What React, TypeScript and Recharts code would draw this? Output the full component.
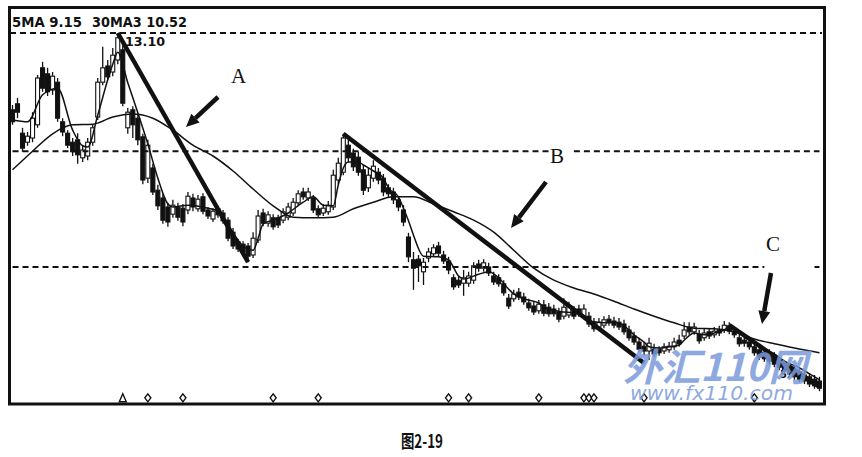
import React from "react"
import { ComposedChart, Bar, Line, XAxis, YAxis, ReferenceLine } from "recharts"

// daily candles (price units)
const opens = [
  11.82, 11.92, 11.43, 11.28, 11.35, 11.57, 12.52, 12.42, 12.15, 12.28,
  11.62, 11.43, 11.28, 11.32, 11.02, 11.05, 11.28, 11.7, 12.28, 12.55,
  12.45, 12.65, 12.82, 11.52, 11.82, 11.68, 11.37, 10.68, 10.85, 10.48,
  10.35, 10.2, 10.08, 10.2, 10.18, 10.15, 10.35, 10.17, 10.37, 10.15,
  10.0, 10.17, 10.1, 9.98, 9.78, 9.62, 9.58, 9.55, 9.4, 9.65,
  10.1, 9.93, 10.02, 10.02, 9.98, 10.03, 10.1, 10.27, 10.45, 10.35,
  10.35, 10.17, 10.1, 10.12, 10.2, 10.65, 10.78, 11.23, 11.1, 11.03,
  10.82, 10.52, 10.68, 10.78, 10.68, 10.52, 10.45, 10.32, 10.15, 9.7,
  9.32, 9.33, 9.12, 9.35, 9.42, 9.55, 9.4, 9.3, 9.02, 8.98,
  8.93, 8.93, 8.98, 9.25, 9.18, 9.2, 9.05, 9.02, 8.92, 8.68,
  8.67, 8.78, 8.7, 8.6, 8.55, 8.47, 8.57, 8.53, 8.5, 8.45,
  8.38, 8.4, 8.48, 8.5, 8.38, 8.38, 8.28, 8.2, 8.23, 8.33,
  8.3, 8.28, 8.25, 8.15, 8.05, 7.95, 7.88, 7.8, 7.83, 7.83,
  7.8, 7.82, 7.87, 7.98, 8.05, 8.2, 8.12, 8.08, 8.02, 8.12,
  8.07, 8.15, 8.15, 8.22, 8.13, 8.02, 7.98, 7.95, 7.87, 7.82,
  7.78, 7.77, 7.72, 7.63, 7.58, 7.53, 7.48, 7.45, 7.4, 7.37,
  7.33, 7.3,
]
const closes = [
  11.62, 11.78, 11.18, 11.38, 11.68, 12.35, 12.18, 12.12, 12.38, 11.68,
  11.45, 11.23, 11.12, 11.07, 11.15, 11.28, 11.52, 12.28, 12.52, 12.37,
  12.73, 13.02, 11.93, 11.78, 11.57, 11.32, 10.65, 11.23, 10.45, 10.22,
  9.98, 9.95, 10.23, 10.03, 9.95, 10.38, 10.2, 10.33, 10.13, 10.05,
  10.13, 10.07, 9.97, 9.68, 9.55, 9.5, 9.45, 9.38, 9.68, 10.05,
  9.93, 10.07, 9.87, 9.9, 10.12, 10.2, 10.28, 10.42, 10.37, 10.45,
  10.15, 10.07, 10.18, 10.23, 10.73, 10.93, 11.35, 11.02, 10.87, 10.78,
  10.48, 10.73, 10.88, 10.65, 10.45, 10.42, 10.32, 10.2, 9.95, 9.37,
  9.18, 9.22, 9.28, 9.45, 9.52, 9.43, 9.3, 9.15, 8.87, 8.9,
  9.02, 9.05, 9.22, 9.18, 9.27, 9.1, 8.95, 8.92, 8.77, 8.55,
  8.75, 8.7, 8.62, 8.52, 8.45, 8.58, 8.43, 8.42, 8.42, 8.33,
  8.53, 8.55, 8.38, 8.42, 8.5, 8.25, 8.17, 8.28, 8.32, 8.27,
  8.23, 8.2, 8.12, 8.02, 7.95, 7.83, 7.8, 7.93, 7.75, 7.77,
  7.87, 7.88, 7.95, 7.92, 8.15, 8.12, 8.2, 7.97, 8.1, 8.05,
  8.13, 8.1, 8.23, 8.13, 8.07, 7.92, 7.93, 7.87, 7.77, 7.7,
  7.67, 7.63, 7.58, 7.53, 7.47, 7.42, 7.37, 7.33, 7.3, 7.25,
  7.22, 7.18,
]
const highs = [
  11.9, 12.02, 11.52, 11.45, 11.78, 12.4, 12.62, 12.52, 12.45, 12.35,
  11.68, 11.48, 11.35, 11.43, 11.22, 11.35, 11.58, 12.35, 12.87, 12.65,
  12.85, 13.1, 12.9, 11.85, 11.88, 11.75, 11.42, 11.32, 10.92, 10.57,
  10.42, 10.27, 10.32, 10.27, 10.25, 10.45, 10.42, 10.4, 10.43, 10.2,
  10.18, 10.22, 10.15, 10.03, 9.85, 9.67, 9.63, 9.6, 9.78, 10.15,
  10.17, 10.13, 10.08, 10.07, 10.18, 10.27, 10.35, 10.48, 10.52, 10.52,
  10.4, 10.23, 10.25, 10.3, 10.82, 11.02, 11.42, 11.32, 11.17, 11.12,
  10.9, 10.85, 10.98, 10.85, 10.75, 10.58, 10.52, 10.38, 10.23, 9.77,
  9.45, 9.4, 9.35, 9.52, 9.58, 9.62, 9.47, 9.37, 9.08, 9.05,
  9.15, 9.12, 9.28, 9.32, 9.33, 9.27, 9.12, 9.08, 8.98, 8.75,
  8.82, 8.85, 8.77, 8.67, 8.62, 8.65, 8.65, 8.6, 8.57, 8.52,
  8.68, 8.62, 8.55, 8.57, 8.58, 8.45, 8.35, 8.35, 8.38, 8.4,
  8.37, 8.35, 8.32, 8.22, 8.12, 8.02, 7.95, 8.02, 7.92, 7.88,
  7.93, 7.95, 8.02, 8.07, 8.28, 8.28, 8.27, 8.15, 8.17, 8.18,
  8.2, 8.22, 8.3, 8.28, 8.2, 8.08, 8.05, 8.02, 7.93, 7.88,
  7.85, 7.83, 7.78, 7.7, 7.65, 7.6, 7.55, 7.52, 7.47, 7.43,
  7.4, 7.37,
]
const lows = [
  11.57, 11.68, 11.12, 11.22, 11.28, 11.52, 12.12, 12.05, 12.07, 11.62,
  11.38, 11.18, 11.05, 10.92, 10.95, 10.98, 11.22, 11.65, 12.23, 12.32,
  12.38, 12.58, 11.88, 11.42, 11.35, 11.23, 10.58, 10.6, 10.4, 10.15,
  9.92, 9.87, 10.02, 9.97, 9.88, 10.08, 10.13, 10.12, 10.08, 10.0,
  9.95, 10.02, 9.92, 9.63, 9.5, 9.45, 9.38, 9.28, 9.35, 9.6,
  9.88, 9.87, 9.82, 9.85, 9.93, 9.98, 10.05, 10.22, 10.32, 10.3,
  10.1, 10.02, 10.05, 10.07, 10.15, 10.58, 10.73, 10.95, 10.8, 10.72,
  10.4, 10.45, 10.62, 10.58, 10.38, 10.35, 10.25, 10.13, 9.88, 9.28,
  8.82, 8.95, 8.9, 9.28, 9.37, 9.38, 9.25, 9.08, 8.82, 8.85,
  8.72, 8.87, 8.92, 9.12, 9.12, 9.05, 8.9, 8.87, 8.72, 8.5,
  8.62, 8.65, 8.57, 8.47, 8.4, 8.42, 8.38, 8.37, 8.37, 8.28,
  8.33, 8.35, 8.33, 8.37, 8.33, 8.2, 8.12, 8.13, 8.18, 8.22,
  8.18, 8.15, 8.07, 7.97, 7.9, 7.78, 7.73, 7.65, 7.7, 7.72,
  7.75, 7.77, 7.82, 7.87, 8.0, 8.07, 8.07, 7.92, 7.97, 8.0,
  8.02, 8.05, 8.1, 8.08, 8.02, 7.87, 7.87, 7.82, 7.72, 7.65,
  7.62, 7.58, 7.53, 7.48, 7.42, 7.37, 7.32, 7.28, 7.25, 7.2,
  7.17, 7.13,
]

// moving averages, read at [bar, value]
const ma5Pts = [
  [0, 11.65], [3, 11.62], [6, 12.07], [9, 12.18], [12, 11.48], [14, 11.22], [15, 11.2],
  [17, 11.73], [19, 12.32], [20, 12.58], [21, 12.78], [23, 12.27], [25, 11.77], [27, 11.25],
  [29, 10.68], [31, 10.25], [32, 10.2], [35, 10.23], [39, 10.18], [41, 10.13], [42, 10.02],
  [44, 9.77], [46, 9.55], [48, 9.48], [49, 9.68], [50, 9.92], [52, 9.98], [55, 10.1],
  [58, 10.28], [60, 10.37], [62, 10.23], [64, 10.22], [65, 10.57], [66, 10.85], [67, 10.95],
  [69, 10.95], [70, 10.9], [72, 10.8], [74, 10.68], [75, 10.52], [77, 10.37], [78, 10.18],
  [79, 9.97], [80, 9.73], [82, 9.38], [85, 9.37], [87, 9.32], [89, 9.05], [90, 9.0],
  [93, 9.08], [95, 9.12], [97, 9.02], [99, 8.83], [100, 8.75], [102, 8.67], [105, 8.6],
  [106, 8.53], [110, 8.45], [113, 8.43], [115, 8.3], [118, 8.27], [120, 8.28], [122, 8.22],
  [124, 8.07], [126, 7.95], [127, 7.87], [129, 7.85], [131, 7.87], [133, 7.9], [134, 7.98],
  [136, 8.1], [138, 8.07], [140, 8.1], [142, 8.15], [143, 8.2], [145, 8.1], [147, 7.98],
  [149, 7.87], [152, 7.75], [154, 7.63], [157, 7.52], [159, 7.42], [161, 7.32],
]
const ma30Pts = [
  [0, 10.82], [4, 11.13], [8, 11.42], [12, 11.57], [16, 11.58], [20, 11.7], [24, 11.75],
  [28, 11.68], [32, 11.48], [36, 11.23], [40, 11.05], [44, 10.8], [48, 10.5], [52, 10.22],
  [56, 10.03], [60, 10.02], [64, 10.03], [68, 10.17], [72, 10.28], [76, 10.37], [80, 10.37],
  [84, 10.25], [88, 10.12], [92, 9.98], [96, 9.78], [100, 9.48], [104, 9.18], [108, 8.98],
  [112, 8.85], [116, 8.75], [120, 8.63], [124, 8.5], [128, 8.38], [132, 8.27], [136, 8.18],
  [140, 8.17], [144, 8.12], [148, 8.0], [152, 7.92], [156, 7.85], [161, 7.77],
]

// signal markers along the bottom
const markBars = [22, 27, 34, 52, 61, 87, 91, 105, 114, 115, 116, 126, 148]
const markKinds = ["tri", "dia", "dia", "dia", "dia", "dia", "dia", "dia", "dia", "dia", "dia", "dia", "dia"]
const markLevel = 7.02

// trend lines A, B, C: [bar, price] -> [bar, price]
const trendLines = [
  [[21, 13.1], [47, 9.28]],
  [[66, 11.42], [126, 7.6]],
  [[143, 8.23], [161, 7.2]],
]
const gridFull = [13.1]
const gridB = { y: 11.13, parts: [[0, 107], [112, 161]] }
const gridC = { y: 9.2, parts: [[0, 150], [160, 161]] }

const rows = opens.map((o, i) => ({
  idx: i,
  open: o,
  close: closes[i],
  high: highs[i],
  low: lows[i],
  ma5: null as number | null,
  ma30: null as number | null,
  mark: null as number | null,
  kind: "",
}))
ma5Pts.forEach(([i, v]) => (rows[i].ma5 = v))
ma30Pts.forEach(([i, v]) => (rows[i].ma30 = v))
markBars.forEach((i, k) => {
  rows[i].mark = markLevel
  rows[i].kind = markKinds[k]
})

const INK = "#111"

const Candle = (props: any) => {
  const { x, y, width, height, payload } = props
  if (!payload || y == null) return <g />
  const top = Math.min(y, y + height)
  const bot = Math.max(y, y + height)
  const { open, close, high, low } = payload
  const span = high - low || 1
  const py = (v: number) => top + ((high - v) / span) * (bot - top)
  const cx = x + width / 2
  const up = close > open
  const bTop = py(Math.max(open, close))
  const bBot = py(Math.min(open, close))
  const bw = 4
  return (
    <g>
      <line x1={cx} x2={cx} y1={top} y2={bTop} stroke={INK} strokeWidth={1.3} />
      <line x1={cx} x2={cx} y1={bBot} y2={bot} stroke={INK} strokeWidth={1.3} />
      <rect
        x={cx - bw / 2}
        y={bTop}
        width={bw}
        height={Math.max(1.4, bBot - bTop)}
        fill={up ? "#fff" : INK}
        stroke={INK}
        strokeWidth={1.1}
      />
    </g>
  )
}

const Mark = (props: any) => {
  const { cx, cy, payload, index } = props
  if (cy == null || !payload || payload.mark == null) return <g key={`m${index}`} />
  if (payload.kind === "tri") {
    return (
      <polygon
        key={`m${index}`}
        points={`${cx},${cy - 4} ${cx + 3.5},${cy + 4} ${cx - 3.5},${cy + 4}`}
        fill="#fff"
        stroke={INK}
        strokeWidth={1.4}
      />
    )
  }
  return (
    <polygon
      key={`m${index}`}
      points={`${cx},${cy - 4} ${cx + 3},${cy} ${cx},${cy + 4} ${cx - 3},${cy}`}
      fill="#fff"
      stroke={INK}
      strokeWidth={1.4}
    />
  )
}

const Arrow = ({ x1, y1, x2, y2 }: { x1: number; y1: number; x2: number; y2: number }) => {
  const a = Math.atan2(y2 - y1, x2 - x1)
  const len = 13
  const hw = 6
  const bx = x2 - len * Math.cos(a)
  const by = y2 - len * Math.sin(a)
  const px = -Math.sin(a) * hw
  const py = Math.cos(a) * hw
  return (
    <g>
      <line x1={x1} y1={y1} x2={bx} y2={by} stroke={INK} strokeWidth={4.5} />
      <polygon points={`${x2},${y2} ${bx + px},${by + py} ${bx - px},${by - py}`} fill={INK} />
    </g>
  )
}

const dash = { stroke: INK, strokeWidth: 2, strokeDasharray: "6 4" }

export default function App() {
  return (
    <div style={{ position: "absolute", left: 0, top: 0, width: 862, height: 457, background: "#fff" }}>
      <ComposedChart
        width={862}
        height={457}
        data={rows}
        margin={{ left: 10, right: 40, top: 9, bottom: 52 }}
      >
        <XAxis dataKey="idx" type="category" hide />
        <YAxis domain={[6.9, 13.5]} allowDataOverflow hide />
        {gridFull.map((v) => (
          <ReferenceLine key={`g${v}`} y={v} {...dash} />
        ))}
        {[gridB, gridC].map((g) =>
          g.parts.map(([a, b]) => (
            <ReferenceLine
              key={`g${g.y}-${a}`}
              segment={[{ x: a, y: g.y }, { x: b, y: g.y }]}
              {...dash}
            />
          )),
        )}
        <Bar
          dataKey={(d: any) => [d.low, d.high]}
          shape={<Candle />}
          isAnimationActive={false}
        />
        <Line
          dataKey="ma30"
          type="monotone"
          connectNulls
          dot={false}
          stroke={INK}
          strokeWidth={1.5}
          isAnimationActive={false}
        />
        <Line
          dataKey="ma5"
          type="monotone"
          connectNulls
          dot={false}
          stroke={INK}
          strokeWidth={1.5}
          isAnimationActive={false}
        />
        <Line
          dataKey="mark"
          stroke="none"
          dot={Mark}
          activeDot={false}
          isAnimationActive={false}
        />
        {trendLines.map(([p, q], k) => (
          <ReferenceLine
            key={`t${k}`}
            segment={[{ x: p[0], y: p[1] }, { x: q[0], y: q[1] }]}
            stroke={INK}
            strokeWidth={4.5}
          />
        ))}
      </ComposedChart>

      <svg
        width={862}
        height={457}
        style={{ position: "absolute", left: 0, top: 0, pointerEvents: "none" }}
      >
        <g fontFamily="'DejaVu Sans Condensed', 'DejaVu Sans', sans-serif" fontWeight="bold" fill={INK}>
          <text x={12} y={27} fontSize={14} textLength={70} lengthAdjust="spacingAndGlyphs">
            5MA 9.15
          </text>
          <text x={92} y={27} fontSize={14} textLength={95} lengthAdjust="spacingAndGlyphs">
            30MA3 10.52
          </text>
          <text x={125} y={46} fontSize={13} textLength={40} lengthAdjust="spacingAndGlyphs">
            13.10
          </text>
          <text x={780} y={378} fontSize={11}>
            5.
          </text>
        </g>
        <g fontFamily="'Liberation Serif', serif" fontSize={21} fill={INK}>
          <text x={231} y={83}>A</text>
          <text x={550} y={163}>B</text>
          <text x={766} y={251}>C</text>
        </g>
        <Arrow x1={218} y1={97} x2={186} y2={127} />
        <Arrow x1={546} y1={182} x2={511} y2={228} />
        <Arrow x1={771} y1={273} x2={762} y2={324} />
        <g fontStyle="italic" fontWeight="bold" opacity={0.85} fill="#7b9bdb">
          <text
            x={623}
            y={381}
            fontSize={38}
            fontFamily="'Noto Sans CJK SC', sans-serif"
            textLength={184}
            lengthAdjust="spacingAndGlyphs"
          >
            外汇110网
          </text>
          <text
            x={630}
            y={400}
            fontSize={20}
            fontFamily="'DejaVu Sans', sans-serif"
            fontWeight="normal"
            textLength={163}
            lengthAdjust="spacingAndGlyphs"
          >
            www.fx110.com
          </text>
        </g>
        <rect x={9.5} y={7.5} width={815} height={396.5} fill="none" stroke={INK} strokeWidth={3} />
        <text
          x={401}
          y={448}
          fontSize={18}
          fontWeight="bold"
          fontFamily="'Noto Sans CJK SC', sans-serif"
          fill={INK}
          textLength={42}
          lengthAdjust="spacingAndGlyphs"
        >
          图2-19
        </text>
      </svg>
    </div>
  )
}
